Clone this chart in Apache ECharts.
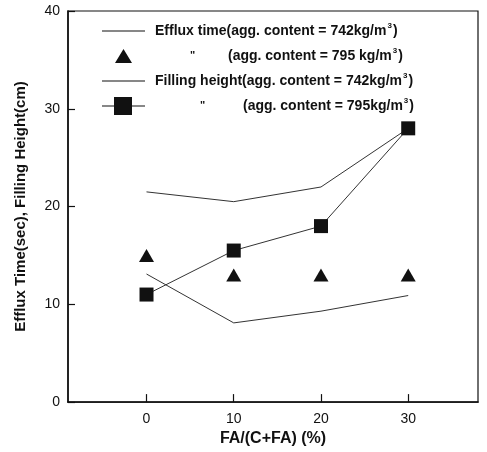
<!DOCTYPE html>
<html>
<head>
<meta charset="utf-8">
<script src="https://cdn.jsdelivr.net/npm/echarts@6/dist/echarts.min.js"></script>
<style>
  html, body { margin: 0; padding: 0; background: #fff; }
  #chart { width: 487px; height: 452px; }
</style>
</head>
<body>
<div id="chart"></div>
<script>
  // FA/(C+FA) %
  var faRatio = [0, 10, 20, 30];
  var xTicks = [0, 10, 20, 30];

  var effluxTime742 = [13.1, 8.1, 9.3, 10.9];
  var effluxTime795 = [15, 13, 13, 13];
  var fillingHeight742 = [21.5, 20.5, 22, 28];
  var fillingHeight795 = [11, 15.5, 18, 28];

  var names = [
    'Efflux time(agg. content = 742kg/m3)',
    '" (agg. content = 795 kg/m3)',
    'Filling height(agg. content = 742kg/m3)',
    '" (agg. content = 795kg/m3)'
  ];

  function pairs(vals) {
    return faRatio.map(function (x, i) { return [x, vals[i]]; });
  }

  var chart = echarts.init(document.getElementById('chart'));
  var font = '"Liberation Sans", Arial, sans-serif';
  var ink = '#111';

  chart.setOption({
    backgroundColor: '#fff',
    animation: false,
    grid: {
      left: 68,
      right: 9,
      top: 11,
      bottom: 48,
      show: true,
      borderColor: ink,
      borderWidth: 1.2
    },
    legend: {
      orient: 'vertical',
      left: 97,
      top: 17,
      itemWidth: 43,
      itemHeight: 18,
      itemGap: 7,
      selectedMode: false,
      textStyle: {
        color: ink,
        fontFamily: font,
        fontWeight: 'bold',
        fontSize: 14,
        lineHeight: 18,
        padding: [0, 0, 0, 5],
        rich: {
          t: { fontFamily: font, fontWeight: 'bold', fontSize: 14, color: ink, lineHeight: 18 },
          s: { fontFamily: font, fontWeight: 'bold', fontSize: 8, color: ink, verticalAlign: 'top', lineHeight: 18, padding: [0, 1, 6, 1] },
          q2: { fontFamily: font, fontWeight: 'bold', fontSize: 11, color: ink, width: 38, padding: [0, 0, 0, 35] },
          q4: { fontFamily: font, fontWeight: 'bold', fontSize: 11, color: ink, width: 43, padding: [0, 0, 0, 45] }
        }
      },
      formatter: function (name) {
        if (name === names[0]) return '{t|Efflux time(agg. content = 742kg/m}{s|3}{t|)}';
        if (name === names[1]) return '{q2|"}{t|(agg. content = 795 kg/m}{s|3}{t|)}';
        if (name === names[2]) return '{t|Filling height(agg. content = 742kg/m}{s|3}{t|)}';
        return '{q4|"}{t|(agg. content = 795kg/m}{s|3}{t|)}';
      },
      data: [
        { name: names[0], icon: 'path://M0,8.4H43V9.6H0Z' },
        { name: names[1], icon: 'path://M21.5,2L30,16H13Z M0,0L0.01,0Z M43,18L42.99,18Z' },
        { name: names[2], icon: 'path://M0,8.4H43V9.6H0Z' },
        { name: names[3], icon: 'path://M0,8.4H12V0H30V8.4H43V9.6H30V18H12V9.6H0Z' }
      ]
    },
    xAxis: {
      type: 'value',
      min: -9,
      max: 38,
      name: 'FA/(C+FA) (%)',
      nameLocation: 'middle',
      nameGap: 27,
      nameTextStyle: { color: ink, fontFamily: font, fontWeight: 'bold', fontSize: 16 },
      axisLine: { show: true, onZero: false, lineStyle: { color: ink, width: 1.6 } },
      axisTick: { show: true, inside: true, length: 8, customValues: xTicks, lineStyle: { color: ink, width: 1.2 } },
      axisLabel: { customValues: xTicks, color: ink, fontFamily: font, fontSize: 14, margin: 10 },
      splitLine: { show: false }
    },
    yAxis: {
      type: 'value',
      min: 0,
      max: 40,
      interval: 10,
      name: 'Efflux Time(sec), Filling Height(cm)',
      nameLocation: 'middle',
      nameGap: 40,
      nameTextStyle: { color: ink, fontFamily: font, fontWeight: 'bold', fontSize: 15 },
      axisLine: { show: true, onZero: false, lineStyle: { color: ink, width: 1.6 } },
      axisTick: { show: true, inside: true, length: 7, lineStyle: { color: ink, width: 1.2 } },
      axisLabel: { color: ink, fontFamily: font, fontSize: 14, margin: 8 },
      splitLine: { show: false }
    },
    series: [
      {
        name: names[0],
        type: 'line',
        data: pairs(effluxTime742),
        symbol: 'none',
        lineStyle: { color: '#333', width: 1 },
        itemStyle: { color: ink }
      },
      {
        name: names[1],
        type: 'scatter',
        data: pairs(effluxTime795),
        symbol: 'triangle',
        symbolSize: [15, 13],
        itemStyle: { color: ink, opacity: 1 }
      },
      {
        name: names[2],
        type: 'line',
        data: pairs(fillingHeight742),
        symbol: 'none',
        lineStyle: { color: '#333', width: 1 },
        itemStyle: { color: ink }
      },
      {
        name: names[3],
        type: 'line',
        data: pairs(fillingHeight795),
        symbol: 'rect',
        symbolSize: 14,
        lineStyle: { color: '#333', width: 1 },
        itemStyle: { color: ink }
      }
    ]
  });
</script>
</body>
</html>
